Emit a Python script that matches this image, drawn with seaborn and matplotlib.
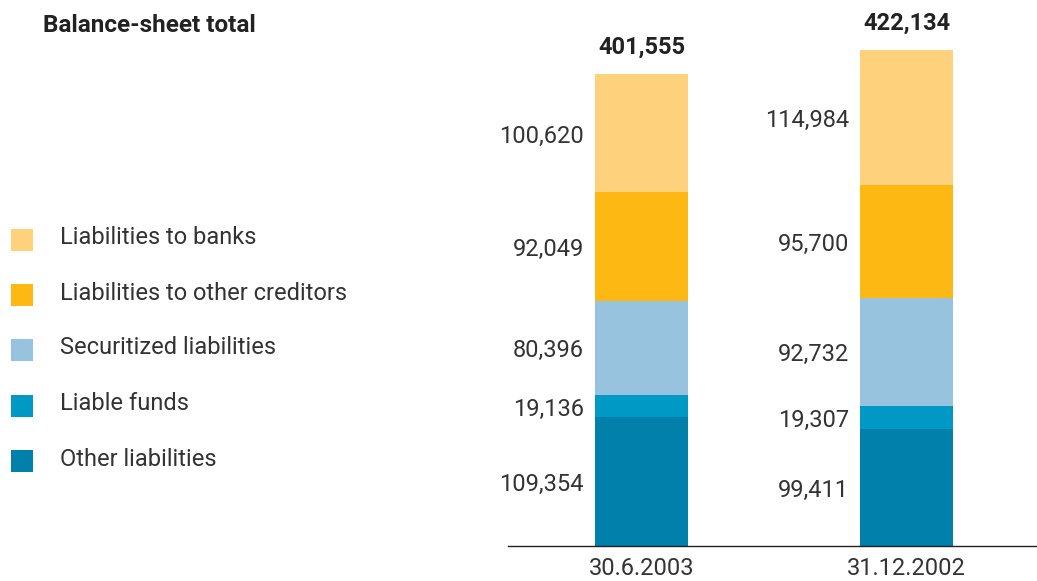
import numpy as np
import pandas as pd
import matplotlib
matplotlib.use("Agg")
import matplotlib.pyplot as plt
from matplotlib.patches import Rectangle
import seaborn as sns

# ---- data ----
categories = ["30.6.2003", "31.12.2002"]
series_names = ["Other liabilities", "Liable funds", "Securitized liabilities",
                "Liabilities to other creditors", "Liabilities to banks"]
other_liabilities = [109354, 99411]
liable_funds = [19136, 19307]
securitized = [80396, 92732]
other_creditors = [92049, 95700]
banks = [100620, 114984]
totals = [401555, 422134]
title = "Balance-sheet total"

colors = ["#0080AB", "#0099C5", "#98C3DE", "#FDB813", "#FED17D"]

sns.set_theme(style="white")
plt.rcParams["font.family"] = ["Roboto", "DejaVu Sans"]
TXT = "#333333"
BOLD_TXT = "#222222"

W, H = 1037, 581
fig = plt.figure(figsize=(W / 100, H / 100), dpi=100)

def fx(px):
    return px / W

def fy(py):
    return 1 - py / H

ax = fig.add_axes([fx(508), fy(546), fx(1037 - 508), 546 / H])

layers = [other_liabilities, liable_funds, securitized, other_creditors, banks]
df = pd.DataFrame({"category": categories})
for name, vals in zip(series_names, layers):
    df[name] = vals

bar_w = 0.351
cum = np.zeros(len(categories))
bottoms = []
for name in series_names:
    bottoms.append(cum.copy())
    cum = cum + df[name].to_numpy()

# draw cumulative stacks from top down so lower layers overlay
for i in reversed(range(len(series_names))):
    top = bottoms[i] + df[series_names[i]].to_numpy()
    sns.barplot(x=df["category"], y=top, color=colors[i], width=bar_w,
                saturation=1, ax=ax, linewidth=0, edgecolor="none")

# segment labels
for i, name in enumerate(series_names):
    vals = df[name].to_numpy()
    for j in range(len(categories)):
        yc = bottoms[i][j] + vals[j] / 2
        ax.annotate(f"{vals[j]:,}", xy=(j - bar_w / 2, yc), xytext=(-8, -2),
                    textcoords="offset points", ha="right", va="center",
                    fontsize=17, color=TXT)

# totals
for j, t in enumerate(totals):
    ax.annotate(f"{t:,}", xy=(j, t), xytext=(0, 19), textcoords="offset points",
                ha="center", va="center", fontsize=17, fontweight="bold",
                color=BOLD_TXT)

ax.set_xlim(-0.504, 1.4925)
ax.set_ylim(0, 546 * 851)
for s in ["top", "left", "right"]:
    ax.spines[s].set_visible(False)
ax.spines["bottom"].set_color("#222222")
ax.spines["bottom"].set_linewidth(1.0)
ax.set_yticks([])
ax.tick_params(axis="x", length=0, pad=8, labelsize=17, labelcolor=TXT)
ax.set_xlabel("")
ax.set_ylabel("")
ax.set_facecolor("none")

# title
fig.text(fx(43), fy(26), title, ha="left", va="center", fontsize=17.5,
         fontweight="bold", color=BOLD_TXT)

# legend (top to bottom)
leg_y = [240, 295, 350, 406, 461]
for k, idx in enumerate(reversed(range(len(series_names)))):
    yc = leg_y[k]
    fig.add_artist(Rectangle((fx(11), fy(yc + 11)), fx(22), 22 / H,
                             transform=fig.transFigure, facecolor=colors[idx],
                             edgecolor="none"))
    fig.text(fx(60), fy(yc - 2), series_names[idx], ha="left", va="center",
             fontsize=17, color=TXT)

fig.savefig("out.png", dpi=100)
